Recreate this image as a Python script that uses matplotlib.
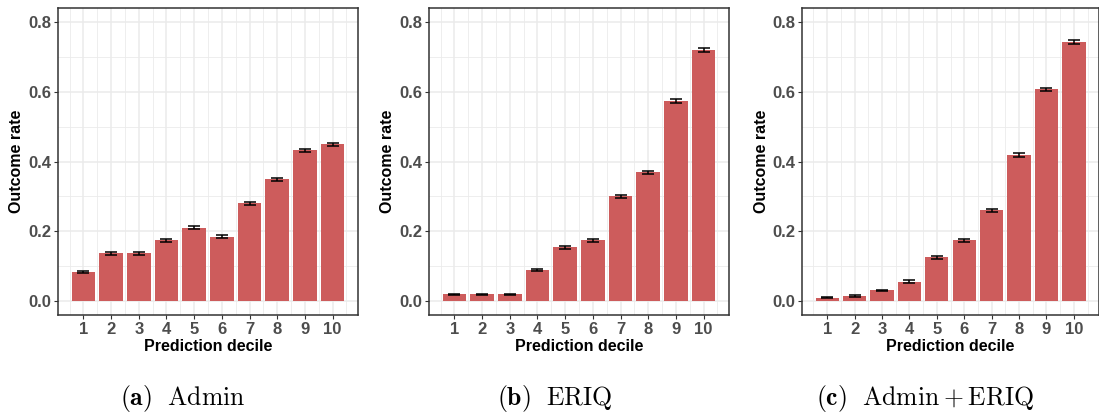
import numpy as np
import matplotlib
matplotlib.use("Agg")
import matplotlib.pyplot as plt

plt.rcParams['font.family'] = ['Liberation Sans', 'DejaVu Sans']
plt.rcParams['mathtext.fontset'] = 'cm'

deciles = [1, 2, 3, 4, 5, 6, 7, 8, 9, 10]

admin_rate = [0.084, 0.137, 0.137, 0.174, 0.210, 0.185, 0.280, 0.349, 0.432, 0.449]
admin_err = [0.003, 0.004, 0.004, 0.004, 0.004, 0.004, 0.005, 0.005, 0.005, 0.005]

eriq_rate = [0.019, 0.019, 0.019, 0.088, 0.154, 0.174, 0.300, 0.369, 0.573, 0.719]
eriq_err = [0.002, 0.002, 0.002, 0.003, 0.004, 0.004, 0.005, 0.005, 0.005, 0.005]

both_rate = [0.010, 0.015, 0.031, 0.056, 0.125, 0.174, 0.260, 0.418, 0.607, 0.742]
both_err = [0.002, 0.002, 0.002, 0.003, 0.004, 0.004, 0.005, 0.005, 0.005, 0.005]

captions = [r'$\mathbf{(a)}\ \ \mathrm{Admin}$',
            r'$\mathbf{(b)}\ \ \mathrm{ERIQ}$',
            r'$\mathbf{(c)}\ \ \mathrm{Admin}+\mathrm{ERIQ}$']
panels = [(admin_rate, admin_err), (eriq_rate, eriq_err), (both_rate, both_err)]

W, H = 1099, 417
fig = plt.figure(figsize=(W / 100, H / 100), dpi=100)

lefts = [58, 429, 802]
widths = [300, 300, 297]
cap_x = [183, 555, 925]
top, bottom = 8, 315

for i, (rate, err) in enumerate(panels):
    ax = fig.add_axes([lefts[i] / W, (H - bottom) / H, widths[i] / W, (bottom - top) / H])
    ax.set_axisbelow(True)
    ax.bar(deciles, rate, width=0.85, color='#CD5C5C', zorder=2)
    ax.errorbar(deciles, rate, yerr=err, fmt='none', ecolor='black',
                elinewidth=1.1, capsize=4.5, capthick=1.1, zorder=3)
    ax.set_xlim(0.0825, 10.9175)
    ax.set_ylim(-0.04, 0.84)
    ax.set_xticks(deciles)
    ax.set_xticks(np.arange(0.5, 11, 1.0), minor=True)
    ax.set_yticks([0.0, 0.2, 0.4, 0.6, 0.8])
    ax.set_yticks([0.1, 0.3, 0.5, 0.7], minor=True)
    ax.set_yticklabels(['0.0', '0.2', '0.4', '0.6', '0.8'])
    ax.grid(which='major', color='#EBEBEB', linewidth=1.1)
    ax.grid(which='minor', color='#EBEBEB', linewidth=0.6)
    ax.tick_params(which='major', length=2.7, width=0.8, color='#333333', pad=2,
                   labelsize=12, labelcolor='#4D4D4D')
    ax.tick_params(which='minor', length=0)
    for lab in ax.get_xticklabels() + ax.get_yticklabels():
        lab.set_fontweight('bold')
    for sp in ax.spines.values():
        sp.set_color('#333333')
        sp.set_linewidth(1.1)
    ax.set_xlabel('Prediction decile', fontsize=11.5, fontweight='bold', va='center')
    ax.xaxis.set_label_coords(0.5, -0.104)
    ax.set_ylabel('Outcome rate', fontsize=11.5, fontweight='bold', va='center')
    ax.yaxis.set_label_coords(-0.137, 0.5)
    fig.text(cap_x[i] / W, (H - 398) / H, captions[i], fontsize=18.5,
             ha='center', va='center')

fig.savefig('out.png', dpi=100)
